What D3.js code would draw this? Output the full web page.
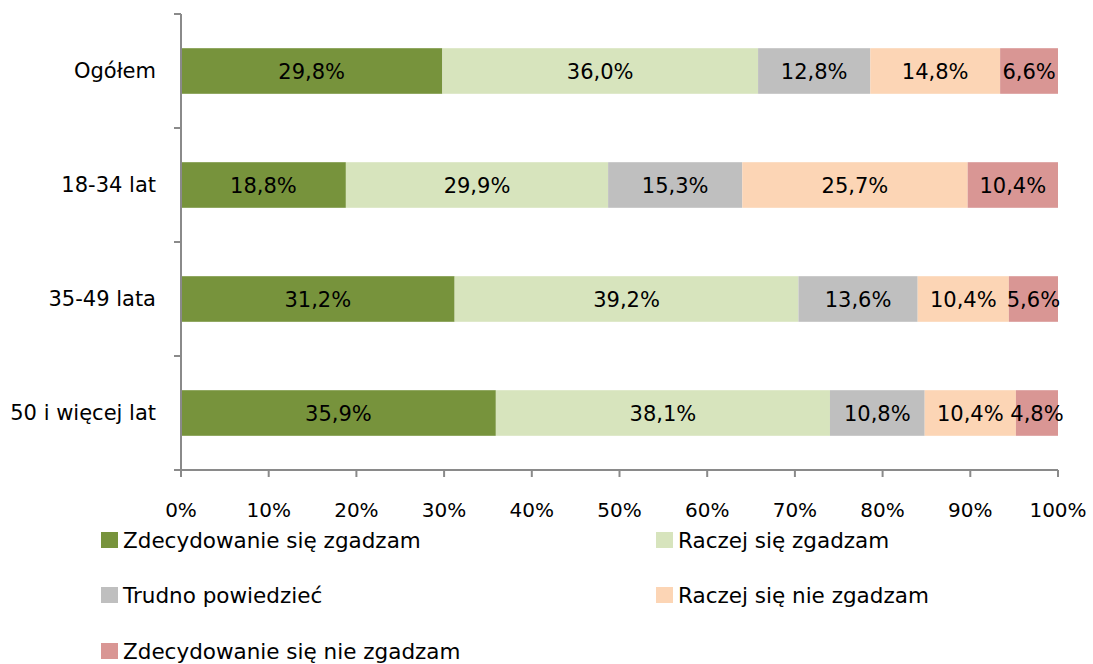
<!DOCTYPE html>
<html>
<head>
<meta charset="utf-8">
<script src="https://cdn.jsdelivr.net/npm/d3@7"></script>
<style>
  body { margin: 0; background: #fff; }
  svg { display: block; }
  text { font-family: "DejaVu Sans", sans-serif; fill: #000; }
</style>
</head>
<body>
<svg id="chart" width="1093" height="664"></svg>
<script>
const categories = ["Ogółem", "18-34 lat", "35-49 lata", "50 i więcej lat"];
const seriesNames = ["Zdecydowanie się zgadzam", "Raczej się zgadzam", "Trudno powiedzieć", "Raczej się nie zgadzam", "Zdecydowanie się nie zgadzam"];
const zdecydowanieZgadzam = [29.8, 18.8, 31.2, 35.9];
const raczejZgadzam = [36.0, 29.9, 39.2, 38.1];
const trudnoPowiedziec = [12.8, 15.3, 13.6, 10.8];
const raczejNieZgadzam = [14.8, 25.7, 10.4, 10.4];
const zdecydowanieNieZgadzam = [6.6, 10.4, 5.6, 4.8];
const xTicks = [0, 10, 20, 30, 40, 50, 60, 70, 80, 90, 100];
const colors = ["#77933C", "#D7E4BD", "#BFBFBF", "#FCD5B5", "#D99694"];

const seriesValues = [zdecydowanieZgadzam, raczejZgadzam, trudnoPowiedziec, raczejNieZgadzam, zdecydowanieNieZgadzam];
const rows = categories.map((c, i) => {
  const r = { cat: c };
  seriesNames.forEach((s, j) => r[s] = seriesValues[j][i]);
  return r;
});

const svg = d3.select("#chart");
const pLeft = 181, pRight = 1058, pTop = 14, pBottom = 470;

const x = d3.scaleLinear().domain([0, 100]).range([pLeft, pRight]);
const y = d3.scaleBand().domain(categories).range([pTop, pBottom]).paddingInner(0.6).paddingOuter(0.3);

const stacked = d3.stack().keys(seriesNames)(rows);

const g = svg.append("g");
stacked.forEach((layer, j) => {
  const lg = g.append("g");
  lg.selectAll("rect").data(layer).join("rect")
    .attr("x", d => x(d[0]))
    .attr("width", d => x(Math.min(d[1], 100)) - x(d[0]))
    .attr("y", d => y(d.data.cat))
    .attr("height", y.bandwidth())
    .attr("fill", colors[j]);
  lg.selectAll("text").data(layer).join("text")
    .attr("x", d => (x(d[0]) + x(Math.min(d[1], 100))) / 2)
    .attr("y", d => y(d.data.cat) + y.bandwidth() / 2)
    .attr("dy", "0.38em")
    .attr("text-anchor", "middle")
    .attr("font-size", 21)
    .text(d => d3.format(".1f")(seriesValues[j][categories.indexOf(d.data.cat)]).replace(".", ",") + "%");
});

// y axis
const yBoundaries = [pTop].concat(categories.map(c => y(c) + y.bandwidth() + y.step() * y.paddingInner() / 2));
yBoundaries[yBoundaries.length - 1] = pBottom;
const axisColor = "#8a8a8a";
svg.append("line").attr("x1", pLeft).attr("x2", pLeft).attr("y1", pTop).attr("y2", pBottom)
  .attr("stroke", axisColor).attr("stroke-width", 2);
svg.selectAll(".ytick").data(yBoundaries).join("line")
  .attr("x1", pLeft - 7).attr("x2", pLeft).attr("y1", d => d).attr("y2", d => d)
  .attr("stroke", axisColor).attr("stroke-width", 2);
svg.selectAll(".ylab").data(categories).join("text")
  .attr("x", pLeft - 25)
  .attr("y", d => y(d) + y.bandwidth() / 2)
  .attr("dy", "0.35em")
  .attr("text-anchor", "end")
  .attr("font-size", 21)
  .text(d => d);

// x axis
svg.append("line").attr("x1", pLeft - 7).attr("x2", pRight).attr("y1", pBottom).attr("y2", pBottom)
  .attr("stroke", axisColor).attr("stroke-width", 2);
svg.selectAll(".xtick").data(xTicks).join("line")
  .attr("x1", d => x(d)).attr("x2", d => x(d)).attr("y1", pBottom).attr("y2", pBottom + 7)
  .attr("stroke", axisColor).attr("stroke-width", 2);
svg.selectAll(".xlab").data(xTicks).join("text")
  .attr("x", d => x(d))
  .attr("y", 510)
  .attr("dy", "0.35em")
  .attr("text-anchor", "middle")
  .attr("font-size", 20)
  .text(d => d + "%");

// legend
const legendPos = [[101, 540], [656, 540], [101, 595], [656, 595], [101, 651]];
seriesNames.forEach((s, j) => {
  const [lx, ly] = legendPos[j];
  svg.append("rect").attr("x", lx).attr("y", ly - 8).attr("width", 17).attr("height", 16).attr("fill", colors[j]);
  svg.append("text").attr("x", lx + 22).attr("y", ly).attr("dy", "0.35em")
    .attr("font-size", 21.5).text(s);
});
</script>
</body>
</html>
